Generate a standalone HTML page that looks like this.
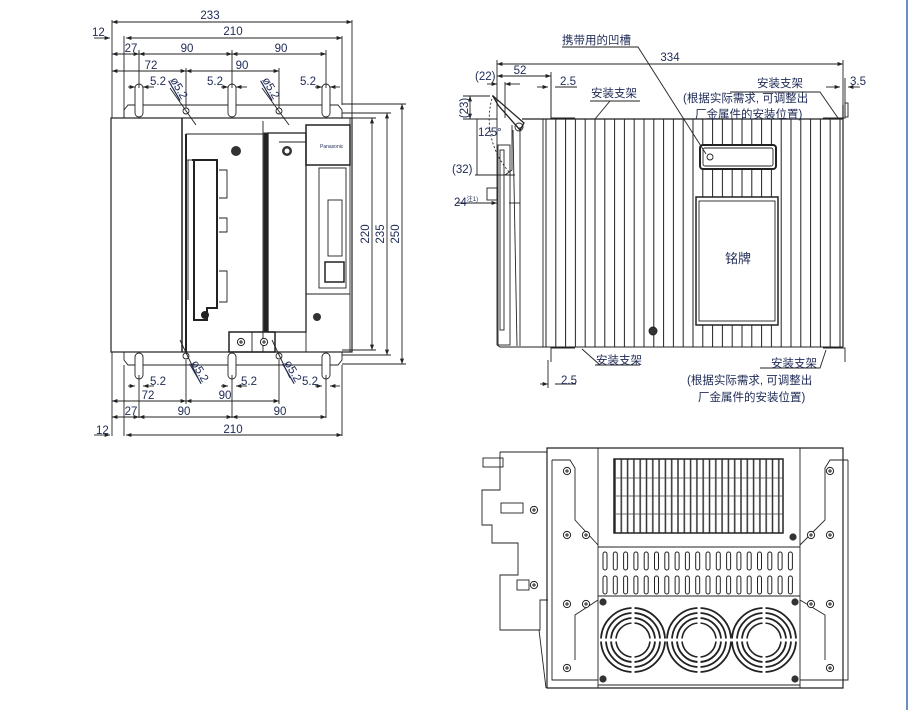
<!DOCTYPE html>
<html><head><meta charset="utf-8"><style>
html,body{margin:0;padding:0;background:#fff;width:910px;height:710px;overflow:hidden}
svg{display:block}
text{font-family:"Liberation Sans","Noto Sans CJK SC",sans-serif;fill:#1e2a55;font-size:11.5px}
</style></head><body>
<svg width="910" height="710" viewBox="0 0 910 710" xmlns="http://www.w3.org/2000/svg">
<defs>
<marker id="a" viewBox="0 0 8 6" refX="8" refY="3" markerWidth="6" markerHeight="5" orient="auto-start-reverse"><path d="M0,0L8,3L0,6z" fill="#222"/></marker>
<pattern id="fin" x="545" y="0" width="9.8" height="10" patternUnits="userSpaceOnUse"><line x1="1" y1="0" x2="1" y2="10" stroke="#222" stroke-width="1"/></pattern>
<pattern id="gr" x="614" y="0" width="6.3" height="10" patternUnits="userSpaceOnUse"><line x1="1" y1="0" x2="1" y2="10" stroke="#333" stroke-width="1.5"/></pattern>
<g id="sc"><circle r="3.6" fill="#fff" stroke="#222" stroke-width="1"/><path d="M-2,0H2M0,-2V2" stroke="#222" stroke-width="1"/></g>
<g id="sb"><circle r="3.6" fill="#333"/></g>
<g id="fan"><circle r="32" fill="none" stroke="#222" stroke-width="1.8"/><circle r="27" fill="none" stroke="#222" stroke-width="1.8"/><circle r="22" fill="none" stroke="#222" stroke-width="1.8"/><circle r="17" fill="none" stroke="#222" stroke-width="1.6"/><path d="M-33,0H33M0,-33V33" stroke="#fff" stroke-width="3"/></g>
</defs>
<line x1="907" y1="0" x2="907" y2="710" stroke="#3a6fa8" stroke-width="1.5"/>
<g stroke="#222" stroke-width="0.9" fill="none">
<line x1="112" y1="22" x2="352" y2="22" marker-start="url(#a)" marker-end="url(#a)"/>
<line x1="94" y1="38" x2="110" y2="38" marker-end="url(#a)"/>
<line x1="126" y1="38" x2="342" y2="38" marker-start="url(#a)" marker-end="url(#a)"/>
<line x1="112" y1="54" x2="139" y2="54" marker-start="url(#a)" marker-end="url(#a)"/>
<line x1="139" y1="54" x2="232" y2="54" marker-start="url(#a)" marker-end="url(#a)"/>
<line x1="232" y1="54" x2="326" y2="54" marker-start="url(#a)" marker-end="url(#a)"/>
<line x1="112" y1="71" x2="186" y2="71" marker-start="url(#a)" marker-end="url(#a)"/>
<line x1="186" y1="71" x2="279" y2="71" marker-start="url(#a)" marker-end="url(#a)"/>
<line x1="112" y1="20" x2="112" y2="118"/><line x1="124" y1="36" x2="124" y2="118"/>
<line x1="352" y1="20" x2="352" y2="118"/><line x1="342" y1="36" x2="342" y2="105"/>
<line x1="139" y1="50" x2="139" y2="88"/><line x1="232" y1="50" x2="232" y2="88"/><line x1="326" y1="50" x2="326" y2="88"/>
<line x1="186" y1="68" x2="186" y2="108"/><line x1="279" y1="68" x2="279" y2="108"/>
<line x1="128" y1="87" x2="135" y2="87" marker-end="url(#a)"/><line x1="154" y1="87" x2="143" y2="87" marker-end="url(#a)"/>
<line x1="221" y1="87" x2="228" y2="87" marker-end="url(#a)"/><line x1="247" y1="87" x2="236" y2="87" marker-end="url(#a)"/>
<line x1="315" y1="87" x2="322" y2="87" marker-end="url(#a)"/><line x1="340" y1="87" x2="330" y2="87" marker-end="url(#a)"/>
<path d="M124,118V110L128,105H135M143,105H228M236,105H322M330,105H338L342,110V118"/>
<path d="M135,105V113A4,4 0 0 0 143,113V88A4,4 0 0 0 135,88Z"/>
<path d="M228,105V113A4,4 0 0 0 236,113V88A4,4 0 0 0 228,88Z"/>
<path d="M322,105V113A4,4 0 0 0 330,113V88A4,4 0 0 0 322,88Z"/>
<circle cx="186" cy="111" r="3"/><circle cx="279" cy="111" r="3"/>
<line x1="170" y1="88" x2="196" y2="125"/><line x1="262" y1="88" x2="289" y2="125"/>
<path d="M124,352V360L128,365H135M143,365H228M236,365H322M330,365H338L342,360V352"/>
<path d="M135,365V357A4,4 0 0 1 143,357V375A4,4 0 0 1 135,375Z"/>
<path d="M228,365V357A4,4 0 0 1 236,357V375A4,4 0 0 1 228,375Z"/>
<path d="M322,365V357A4,4 0 0 1 330,357V375A4,4 0 0 1 322,375Z"/>
<circle cx="186" cy="356" r="3"/><circle cx="279" cy="356" r="3"/>
<line x1="180" y1="340" x2="198" y2="378"/><line x1="272" y1="340" x2="290" y2="378"/>
<line x1="112" y1="352" x2="112" y2="436"/><line x1="124" y1="365" x2="124" y2="436"/><line x1="342" y1="365" x2="342" y2="436"/>
<line x1="139" y1="375" x2="139" y2="418"/><line x1="232" y1="375" x2="232" y2="418"/><line x1="326" y1="375" x2="326" y2="418"/>
<line x1="186" y1="360" x2="186" y2="404"/><line x1="279" y1="360" x2="279" y2="404"/>
<line x1="128" y1="386" x2="135" y2="386" marker-end="url(#a)"/><line x1="154" y1="386" x2="143" y2="386" marker-end="url(#a)"/>
<line x1="221" y1="386" x2="228" y2="386" marker-end="url(#a)"/><line x1="247" y1="386" x2="236" y2="386" marker-end="url(#a)"/>
<line x1="315" y1="386" x2="322" y2="386" marker-end="url(#a)"/><line x1="340" y1="386" x2="330" y2="386" marker-end="url(#a)"/>
<line x1="112" y1="401" x2="186" y2="401" marker-start="url(#a)" marker-end="url(#a)"/>
<line x1="186" y1="401" x2="279" y2="401" marker-start="url(#a)" marker-end="url(#a)"/>
<line x1="112" y1="417" x2="139" y2="417" marker-start="url(#a)" marker-end="url(#a)"/>
<line x1="139" y1="417" x2="232" y2="417" marker-start="url(#a)" marker-end="url(#a)"/>
<line x1="232" y1="417" x2="326" y2="417" marker-start="url(#a)" marker-end="url(#a)"/>
<line x1="94" y1="435" x2="110" y2="435" marker-end="url(#a)"/>
<line x1="126" y1="435" x2="342" y2="435" marker-start="url(#a)" marker-end="url(#a)"/>
<line x1="342" y1="118" x2="376" y2="118"/><line x1="342" y1="350" x2="376" y2="350"/>
<line x1="342" y1="113" x2="391" y2="113"/><line x1="342" y1="355" x2="391" y2="355"/>
<line x1="342" y1="104" x2="406" y2="104"/><line x1="342" y1="364" x2="406" y2="364"/>
<line x1="372" y1="118" x2="372" y2="350" marker-start="url(#a)" marker-end="url(#a)"/>
<line x1="387" y1="113" x2="387" y2="355" marker-start="url(#a)" marker-end="url(#a)"/>
<line x1="402" y1="104" x2="402" y2="364" marker-start="url(#a)" marker-end="url(#a)"/>
<rect x="111" y="118" width="241" height="234" stroke-width="1.2"/>
<line x1="182" y1="118" x2="182" y2="352" stroke-width="1.5"/>
<line x1="186" y1="134" x2="186" y2="352" stroke-width="2"/>
<line x1="186" y1="134" x2="263" y2="134"/>
<line x1="263" y1="121" x2="263" y2="352"/>
<rect x="264" y="133" width="4" height="198" fill="#222"/>
<rect x="268" y="133" width="38" height="199" stroke-width="1.3"/>
<line x1="279" y1="142" x2="306" y2="142"/>
<rect x="306" y="125" width="44" height="40" stroke-width="1.5"/>
<line x1="306" y1="165" x2="306" y2="352"/>
<line x1="306" y1="294" x2="350" y2="294"/>
<line x1="350" y1="118" x2="350" y2="352"/>
<path d="M192,160H217V308H207V320H194V160Z" stroke-width="2"/>
<line x1="187" y1="160" x2="192" y2="160"/><line x1="188" y1="160" x2="188" y2="300"/>
<path d="M219,170H227V198H219M219,218H227V232H219M219,271H227V302H219"/>
<rect x="229" y="332" width="46" height="20" stroke-width="1.5"/>
<line x1="252" y1="332" x2="252" y2="352"/>
<rect x="319" y="168" width="27" height="120"/>
<rect x="328" y="200" width="14" height="56"/>
<rect x="325" y="262" width="19" height="20" stroke-width="1.5"/>
<line x1="497" y1="64" x2="843" y2="64" marker-start="url(#a)" marker-end="url(#a)"/>
<line x1="497" y1="60" x2="497" y2="345"/>
<line x1="843" y1="60" x2="843" y2="105"/>
<line x1="497" y1="76" x2="551" y2="76" marker-start="url(#a)" marker-end="url(#a)"/>
<line x1="551" y1="72" x2="551" y2="118"/>
<line x1="537" y1="87" x2="548" y2="87" marker-end="url(#a)"/><line x1="555" y1="87" x2="577" y2="87"/>
<line x1="826" y1="87" x2="840" y2="87" marker-end="url(#a)"/><line x1="860" y1="87" x2="848" y2="87" marker-end="url(#a)"/>
<line x1="487" y1="84" x2="497" y2="84" marker-end="url(#a)"/><line x1="520" y1="84" x2="505" y2="84" marker-end="url(#a)"/>
<line x1="505" y1="82" x2="505" y2="118"/>
<line x1="463" y1="96" x2="490" y2="96"/><line x1="463" y1="119" x2="497" y2="119"/>
<line x1="470" y1="96" x2="470" y2="119" marker-start="url(#a)" marker-end="url(#a)"/>
<line x1="475" y1="175" x2="515" y2="175"/><line x1="477" y1="119" x2="477" y2="175"/>
<path d="M493,95A80,80 0 0 0 510,173" stroke-dasharray="2,2"/>
<path d="M493,96L524,123L520,130L498,105Z" stroke-width="1.3"/>
<circle cx="519" cy="127" r="4"/>
<path d="M512,125V170L505,175"/>
<line x1="457" y1="203" x2="496" y2="203"/><line x1="486" y1="203" x2="497" y2="203" marker-end="url(#a)"/><line x1="520" y1="203" x2="509" y2="203"/>
<rect x="487" y="188" width="10" height="12"/>
<rect x="498" y="145" width="12" height="200"/><rect x="500" y="150" width="4" height="180"/>
<line x1="513" y1="130" x2="517" y2="346"/><line x1="520" y1="127" x2="520" y2="346"/>
<path d="M497,345L500,347H843"/>
<line x1="522" y1="119" x2="843" y2="119" stroke-width="1.2"/>
<line x1="543" y1="119" x2="543" y2="347"/>
<rect x="545" y="119" width="297" height="228" fill="url(#fin)" stroke="none"/>
<line x1="843" y1="105" x2="843" y2="347" stroke-width="1.2"/>
<path d="M551,78V118H575M845,78V118H823"/><rect x="845" y="103" width="3" height="14"/>
<path d="M551,362V348H575M845,362V348H823"/>
<line x1="540" y1="384" x2="548" y2="384" marker-end="url(#a)"/><line x1="555" y1="384" x2="576" y2="384"/>
<line x1="548" y1="360" x2="548" y2="388"/>
<rect x="700" y="145" width="76" height="24" rx="3" fill="#fff" stroke-width="2"/>
<rect x="703" y="148" width="70" height="18" rx="2" fill="#fff"/>
<circle cx="710" cy="157" r="3"/>
<rect x="696" y="197" width="82" height="128" fill="#fff" stroke-width="1.5"/>
<rect x="699" y="201" width="76" height="120"/>
<circle cx="653" cy="331" r="4" fill="#333"/>
<path d="M562,47H638L706,154"/>
<path d="M590,101H640M610,101L595,119"/>
<path d="M730,92H820L838,118"/>
<path d="M595,365H640M600,365L582,349"/>
<path d="M760,368H820L826,350"/>
<path d="M547,448H843V688H547Z" stroke-width="1.2"/>
<line x1="598" y1="448" x2="598" y2="688"/><line x1="800" y1="448" x2="800" y2="688"/>
<rect x="614" y="459" width="169" height="74" fill="url(#gr)" stroke-width="1.5"/>
<path d="M614,478H783M614,496H783M614,514H783" stroke="#444" stroke-width="0.8"/>
<line x1="598" y1="547" x2="800" y2="547"/><line x1="598" y1="596" x2="800" y2="596"/>
<path d="M598,685H800"/>
<path d="M552,460H570L575,468V520L598,545M552,460V680H598M848,460H830L825,468V520L800,545M848,460V680H800"/>
<path d="M575,660V615L598,600M825,660V615L800,600"/>
<path d="M500,452H547M500,452V490H482V525H492V543H518V575H500V630H540V600H548"/>
<rect x="483" y="458" width="20" height="9"/>
<rect x="501" y="503" width="22" height="10"/>
<rect x="517" y="580" width="12" height="10"/>
<line x1="539" y1="630" x2="546" y2="688"/>
</g>
<g fill="none" stroke="#222" stroke-width="1">
<g id="slr"><rect x="603" y="552" width="4" height="18" rx="2"/><rect x="613.3" y="552" width="4" height="18" rx="2"/><rect x="623.6" y="552" width="4" height="18" rx="2"/><rect x="633.9" y="552" width="4" height="18" rx="2"/><rect x="644.2" y="552" width="4" height="18" rx="2"/><rect x="654.5" y="552" width="4" height="18" rx="2"/><rect x="664.8" y="552" width="4" height="18" rx="2"/><rect x="675.1" y="552" width="4" height="18" rx="2"/><rect x="685.4" y="552" width="4" height="18" rx="2"/><rect x="695.7" y="552" width="4" height="18" rx="2"/><rect x="706" y="552" width="4" height="18" rx="2"/><rect x="716.3" y="552" width="4" height="18" rx="2"/><rect x="726.6" y="552" width="4" height="18" rx="2"/><rect x="736.9" y="552" width="4" height="18" rx="2"/><rect x="747.2" y="552" width="4" height="18" rx="2"/><rect x="757.5" y="552" width="4" height="18" rx="2"/><rect x="767.8" y="552" width="4" height="18" rx="2"/><rect x="778.1" y="552" width="4" height="18" rx="2"/><rect x="788.4" y="552" width="4" height="18" rx="2"/></g>
<use href="#slr" y="24"/>
<use href="#fan" x="633" y="640"/><use href="#fan" x="699" y="640"/><use href="#fan" x="764" y="640"/>
</g>
<g>
<use href="#sc" x="567" y="471"/><use href="#sc" x="567" y="535"/><use href="#sc" x="586" y="535"/><use href="#sc" x="567" y="604"/><use href="#sc" x="586" y="604"/><use href="#sc" x="567" y="668"/>
<use href="#sc" x="830" y="471"/><use href="#sc" x="830" y="535"/><use href="#sc" x="811" y="535"/><use href="#sc" x="830" y="604"/><use href="#sc" x="811" y="604"/><use href="#sc" x="830" y="668"/>
<use href="#sc" x="534" y="510"/><use href="#sc" x="534" y="585"/>
<use href="#sb" x="793" y="537"/><use href="#sb" x="603" y="602"/><use href="#sb" x="795" y="602"/><use href="#sb" x="603" y="679"/><use href="#sb" x="795" y="679"/>
<circle cx="236" cy="151" r="5" fill="#333"/><circle cx="287" cy="151" r="5" fill="#333"/><circle cx="287" cy="151" r="2.5" fill="#fff"/>
<circle cx="205" cy="315" r="4" fill="#222"/>
<circle cx="317" cy="317" r="4" fill="#333"/>
<use href="#sc" x="241" y="342"/><use href="#sc" x="264" y="342"/>
</g>
<text x="210" y="19" text-anchor="middle">233</text>
<text x="92" y="36">12</text>
<text x="233" y="35" text-anchor="middle">210</text>
<text x="131" y="52" text-anchor="middle">27</text>
<text x="187" y="52" text-anchor="middle">90</text>
<text x="281" y="52" text-anchor="middle">90</text>
<text x="151" y="69" text-anchor="middle">72</text>
<text x="242" y="69" text-anchor="middle">90</text>
<text x="150" y="85">5.2</text><text x="207" y="85">5.2</text><text x="300" y="85">5.2</text>
<text transform="translate(170,80) rotate(60)" style="text-decoration:underline">ø5.2</text>
<text transform="translate(262,80) rotate(60)" style="text-decoration:underline">ø5.2</text>
<text transform="translate(191,363) rotate(60)" style="text-decoration:underline">ø5.2</text>
<text transform="translate(284,363) rotate(60)" style="text-decoration:underline">ø5.2</text>
<text x="150" y="385">5.2</text><text x="241" y="385">5.2</text><text x="302" y="385">5.2</text>
<text x="148" y="399" text-anchor="middle">72</text>
<text x="225" y="399" text-anchor="middle">90</text>
<text x="131" y="415" text-anchor="middle">27</text>
<text x="184" y="415" text-anchor="middle">90</text>
<text x="280" y="415" text-anchor="middle">90</text>
<text x="96" y="434">12</text>
<text x="233" y="433" text-anchor="middle">210</text>
<text transform="translate(369,234) rotate(-90)" text-anchor="middle">220</text>
<text transform="translate(384,234) rotate(-90)" text-anchor="middle">235</text>
<text transform="translate(399,234) rotate(-90)" text-anchor="middle">250</text>
<text x="320" y="148" style="font-size:5px">Panasonic</text>
<text x="562" y="44">携带用的凹槽</text>
<text x="670" y="61" text-anchor="middle">334</text>
<text x="520" y="74" text-anchor="middle">52</text>
<text x="475" y="80">(22)</text>
<text x="560" y="85">2.5</text>
<text x="850" y="85">3.5</text>
<text x="591" y="97">安装支架</text>
<text x="757" y="87">安装支架</text>
<text x="683" y="102">(根据实际需求, 可调整出</text>
<text x="695" y="118">厂金属件的安装位置)</text>
<text transform="translate(468,108) rotate(-90)" text-anchor="middle">(23)</text>
<text x="478" y="136">125°</text>
<text x="452" y="173">(32)</text>
<text x="454" y="206">24<tspan style="font-size:6px" dy="-5">注1)</tspan></text>
<text x="725" y="263" style="font-size:13px">铭牌</text>
<text x="596" y="364">安装支架</text>
<text x="771" y="367">安装支架</text>
<text x="687" y="384">(根据实际需求, 可调整出</text>
<text x="698" y="401">厂金属件的安装位置)</text>
<text x="561" y="384">2.5</text>
</svg>
</body></html>
